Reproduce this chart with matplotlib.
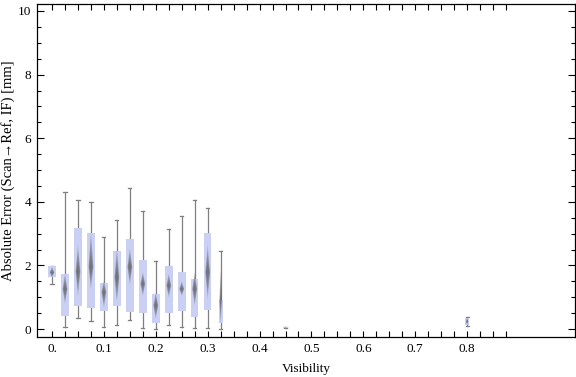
import matplotlib
matplotlib.use("Agg")

import matplotlib.pyplot as plt
import numpy as np

# ---------------------------
# Data
# ---------------------------
vis = [0.0, 0.025, 0.05, 0.075, 0.1, 0.125, 0.15, 0.175, 0.2, 0.225, 0.25,
       0.275, 0.3, 0.325, 0.45, 0.8]
w_lo = [1.43, 0.07, 0.34, 0.26, 0.08, 0.12, 0.27, 0.02, 0.00, 0.13, 0.05,
        0.02, 0.02, 0.00, 0.04, 0.10]
q1 = [1.65, 0.42, 0.74, 0.66, 0.58, 0.71, 0.55, 0.51, 0.20, 0.52, 0.57,
      0.39, 0.60, 0.19, 0.04, 0.14]
med = [1.78, 1.26, 1.81, 1.95, 1.16, 1.63, 1.95, 1.42, 0.74, 1.37, 1.26,
       1.26, 1.79, 0.90, 0.05, 0.24]
q3 = [1.98, 1.74, 3.19, 3.02, 1.45, 2.46, 2.84, 2.18, 1.11, 1.97, 1.80,
      1.58, 3.03, 0.92, 0.06, 0.34]
w_hi = [1.98, 4.32, 4.06, 3.98, 2.89, 3.44, 4.44, 3.72, 2.13, 3.15, 3.56,
        4.06, 3.81, 2.46, 0.06, 0.37]
# vertical extent of the grey density diamond
dia_lo = [1.62, 0.80, 1.05, 1.26, 0.68, 0.84, 1.40, 1.05, 0.32, 1.00, 1.05,
          0.74, 0.95, 0.15, 0.04, 0.12]
dia_hi = [1.95, 1.74, 2.63, 3.05, 1.53, 2.53, 2.53, 1.79, 1.16, 1.74, 1.50,
          1.79, 2.63, 1.90, 0.06, 0.36]

BOX_COLOR = "#c9d0f4"
WHISK_COLOR = "#7f7f7f"
DIA_COLOR = "#666666"

plt.rcParams["font.family"] = ["Liberation Serif", "DejaVu Serif"]

fig = plt.figure(figsize=(5.76, 3.77), dpi=100)
ax = fig.add_axes([37 / 576, 1 - 337 / 377, 538 / 576, 333 / 377])

box_w = 0.0145
cap_w = 0.006
dia_w = 0.0095

for i, x in enumerate(vis):
    # whiskers with caps
    ax.plot([x, x], [w_lo[i], w_hi[i]], color=WHISK_COLOR, lw=0.9, zorder=1)
    for yy in (w_lo[i], w_hi[i]):
        ax.plot([x - cap_w / 2, x + cap_w / 2], [yy, yy], color=WHISK_COLOR,
                lw=0.9, zorder=1)
    # interquartile box
    bw = box_w if i < 13 else box_w * 0.55
    ax.fill_between([x - bw / 2, x + bw / 2], q1[i], q3[i], color=BOX_COLOR,
                    lw=0, zorder=2)
    # density diamond, stacked for a fading look
    dw = dia_w if i < 13 else dia_w * 0.5
    for s in (1.0, 0.8, 0.6, 0.4, 0.2):
        lo = med[i] - (med[i] - dia_lo[i]) * s
        hi = med[i] + (dia_hi[i] - med[i]) * s
        hw = dw / 2 * (0.4 + 0.6 * s)
        ax.fill([x, x + hw, x, x - hw], [lo, med[i], hi, med[i]],
                color=DIA_COLOR, alpha=0.33, lw=0, zorder=3)

ax.set_xlim(-0.029, 1.008)
ax.set_ylim(-0.25, 10.22)

xt_major = np.round(np.arange(0, 0.81, 0.1), 2)
ax.set_xticks(xt_major)
ax.set_xticklabels(["0."] + [f"{v:.1f}" for v in xt_major[1:]])
ax.set_xticks(np.arange(0, 0.876, 0.025), minor=True)
ax.set_yticks([0, 2, 4, 6, 8, 10])
ax.set_yticks(np.arange(0, 10.01, 0.5), minor=True)

ax.tick_params(which="both", direction="in", top=True, right=True,
               labelsize=9.5, width=0.8, colors="black", pad=4)
ax.tick_params(axis="y", which="major", length=5)
ax.tick_params(axis="y", which="minor", length=3)
ax.tick_params(axis="x", which="both", length=4)
for sp in ax.spines.values():
    sp.set_linewidth(0.9)

ax.set_xlabel("Visibility", fontsize=9.5, labelpad=6)
ax.set_ylabel("Absolute Error (Scan\u2192Ref, IF) [mm]", fontsize=10.5)
ax.yaxis.set_label_coords(-0.040, 0.5)

fig.savefig("out.png", dpi=100)
